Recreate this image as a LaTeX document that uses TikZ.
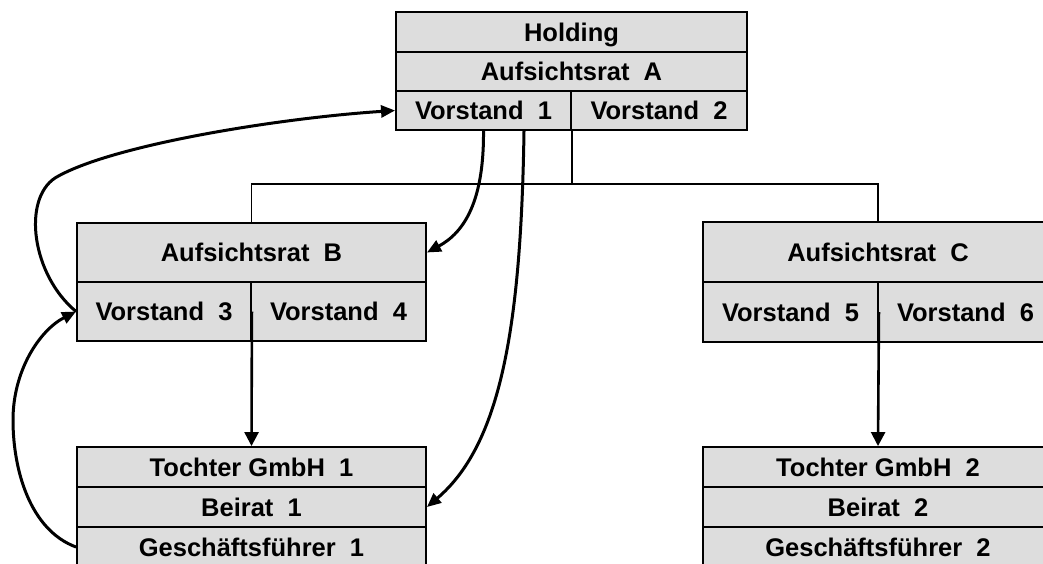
\documentclass[tikz,border=0pt]{standalone}
\usepackage{fontspec}
\setmainfont{Liberation Sans}
\usetikzlibrary{arrows.meta}
\definecolor{cellgray}{RGB}{221,221,221}
\begin{document}
\begin{tikzpicture}[x=1pt,y=-1pt,
  cell/.style={draw, fill=cellgray, line width=1.9pt, inner sep=0pt,
    font=\fontsize{25.5}{26}\selectfont\bfseries, text height=18.3pt, text depth=0pt},
  tree/.style={line width=1.8pt},
  link/.style={line width=3pt, -{Triangle[length=14pt,width=12pt]}},
  vlink/.style={line width=2.6pt, -{Triangle[length=14pt,width=14pt]}}
]
\useasboundingbox (0,0) rectangle (1043,563);
% Holding
\node[cell, minimum width=351pt, minimum height=40pt] (hold) at (571.5,32) {Holding};
\node[cell, minimum width=351pt, minimum height=39pt] (aufA) at (571.5,71.5) {Aufsichtsrat~~A};
\node[cell, minimum width=175pt, minimum height=39pt] (v1) at (483.5,110.5) {Vorstand~~1};
\node[cell, minimum width=176pt, minimum height=39pt] (v2) at (659,110.5) {Vorstand~~2};
% B
\node[cell, minimum width=349pt, minimum height=59pt] (aufB) at (251.5,252.5) {Aufsichtsrat~~B};
\node[cell, minimum width=174pt, minimum height=59pt] (v3) at (164,311.5) {Vorstand~~3};
\node[cell, minimum width=175pt, minimum height=59pt] (v4) at (338.5,311.5) {Vorstand~~4};
% C
\node[cell, minimum width=350pt, minimum height=60pt] (aufC) at (878,252) {Aufsichtsrat~~C};
\node[cell, minimum width=175pt, minimum height=60pt] (v5) at (790.5,312) {Vorstand~~5};
\node[cell, minimum width=175pt, minimum height=60pt] (v6) at (965.5,312) {Vorstand~~6};
% Tochter 1
\node[cell, minimum width=349pt, minimum height=40pt] (t1) at (251.5,467) {Tochter GmbH~~1};
\node[cell, minimum width=349pt, minimum height=40pt] (b1) at (251.5,507) {Beirat~~1};
\node[cell, minimum width=349pt, minimum height=40pt] (g1) at (251.5,547) {Geschäftsführer~~1};
% Tochter 2
\node[cell, minimum width=350pt, minimum height=40pt] (t2) at (878,467) {Tochter GmbH~~2};
\node[cell, minimum width=350pt, minimum height=40pt] (b2) at (878,507) {Beirat~~2};
\node[cell, minimum width=350pt, minimum height=40pt] (g2) at (878,547) {Geschäftsführer~~2};
% tree
\draw[tree] (v1.south east) -- ++(0,53) coordinate (j);
\draw[tree] (aufB.north) |- (j) -| (aufC.north);
% vertical arrows
\draw[vlink] (v3.east) -- (t1.north);
\draw[vlink] (v5.east) -- (t2.north);
% curved links
\draw[link] (v1.south) .. controls (484,200) and (465,232) .. (aufB.east);
\draw[link] ([xshift=40.5pt]v1.south) .. controls (521,330) and (500,445) .. (b1.east);
\draw[link] (v3.west) .. controls (32,275) and (22,200) .. (55,178)
  .. controls (110,145) and (280,118) .. (v1.west);
\draw[link] (g1.west) .. controls (30,530) and (13,470) .. (13,420)
  .. controls (13,370) and (40,330) .. (v3.west);
\end{tikzpicture}
\end{document}
